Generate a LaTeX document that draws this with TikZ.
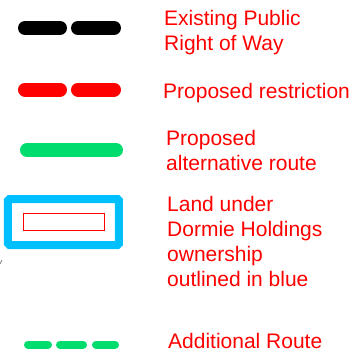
\documentclass[tikz,border=0pt]{standalone}
\usepackage{fontspec}
\setmainfont{Liberation Sans}
\definecolor{legendred}{RGB}{255,0,0}
\definecolor{routegreen}{RGB}{0,221,110}
\definecolor{landblue}{RGB}{0,191,255}
\tikzset{
  % placed at the baseline of the last line of the label
  legendtext/.style={anchor=base west, inner sep=0pt, align=left,
    text=legendred, font=\fontsize{21}{25}\selectfont},
  thickdash/.style={line width=14pt, line cap=round},
  thindash/.style={line width=8pt, line cap=round, draw=routegreen},
}
\begin{document}
\begin{tikzpicture}[x=1pt, y=-1pt]
\useasboundingbox (0,0) rectangle (350,360);

% existing public right of way
\draw[thickdash, black] (25,28) -- (60,28);
\draw[thickdash, black] (78,28) -- (114,28);
\node[legendtext] (t1) at (164,50) {Existing Public\\Right of Way};

% proposed restriction
\draw[thickdash, legendred] (25,89.5) -- (60,89.5);
\draw[thickdash, legendred] (78,89.5) -- (114,89.5);
\node[legendtext] (t2) at (163,98) {Proposed restriction};

% proposed alternative route
\draw[thickdash, routegreen] (27,150) -- (116,150);
\node[legendtext] (t3) at (166,170) {Proposed\\alternative route};

% land ownership
\draw[landblue, line width=8pt, rounded corners=1.5pt] (8,199) rectangle (119,245);
\draw[legendred, line width=1.3pt] (23.5,213.5) rectangle (104.5,230.5);
\draw[gray, line width=0.8pt] (0,264) -- (2,260);
\node[legendtext] (t4) at (167,286.5) {Land under\\Dormie Holdings\\ownership\\outlined in blue};

% additional route
\draw[thindash] (28,344.5) -- (48,344.5);
\draw[thindash] (60,344.5) -- (83,344.5);
\draw[thindash] (96,344.5) -- (115,344.5);
\node[legendtext] (t5) at (168,348) {Additional Route};
\end{tikzpicture}
\end{document}
